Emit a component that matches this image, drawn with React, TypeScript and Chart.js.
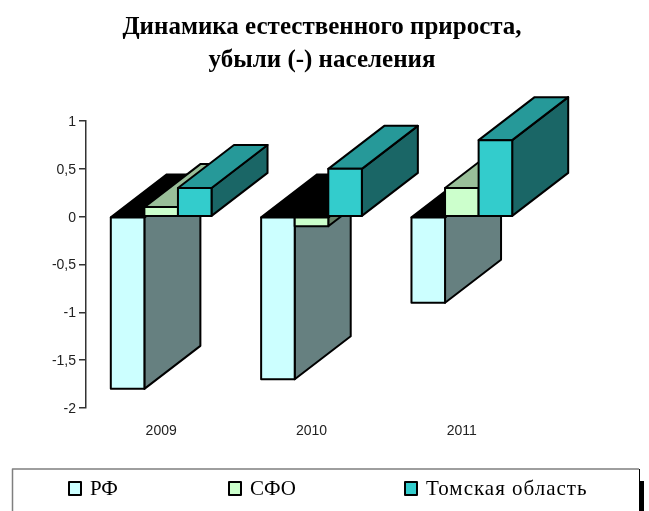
import React, { useEffect, useRef } from "react";
import { Chart, registerables } from "chart.js";

Chart.register(...registerables);

const years = ["2009", "2010", "2011"];
const seriesNames = ["РФ", "СФО", "Томская область"];
const rf = [-1.8, -1.7, -0.9];
const sfo = [0.1, -0.1, 0.3];
const tomsk = [0.3, 0.5, 0.8];
const seriesValues = [rf, sfo, tomsk];
const frontColors = ["#CCFFFF", "#CCFFCC", "#33CCCC"];
const sideColors = ["#668080", "#668066", "#1A6666"];
const topColors = ["#99BFBF", "#99BF99", "#269999"];
const legendMarkerX = [69, 229, 405];
const legendTextX = [90, 250, 426];
const legendLetterSpacing = ["0px", "0px", "1px"];
const titleLines = ["Динамика естественного прироста,", "убыли (-) населения"];

const DX = 56;
const DY = -43;

function poly(ctx: CanvasRenderingContext2D, pts: number[][], fill: string) {
  ctx.beginPath();
  pts.forEach((p, i) => (i ? ctx.lineTo(p[0], p[1]) : ctx.moveTo(p[0], p[1])));
  ctx.closePath();
  ctx.fillStyle = fill;
  ctx.fill();
  ctx.lineWidth = 2;
  ctx.strokeStyle = "#000";
  ctx.lineJoin = "round";
  ctx.stroke();
}

const bars3d = {
  id: "bars3d",
  beforeDatasetsDraw(chart: any) {
    const ctx = chart.ctx;
    seriesValues.forEach((values, s) => {
      const meta = chart.getDatasetMeta(s);
      meta.data.forEach((bar: any, i: number) => {
        const { x, y, base, width } = bar.getProps(["x", "y", "base", "width"], true);
        const l = x - width / 2;
        const r = x + width / 2;
        const t = Math.min(y, base);
        const b = Math.max(y, base);
        poly(ctx, [[r, t], [r + DX, t + DY], [r + DX, b + DY], [r, b]], sideColors[s]);
        poly(ctx, [[l, t], [r, t], [r + DX, t + DY], [l + DX, t + DY]], values[i] < 0 ? "#000000" : topColors[s]);
        poly(ctx, [[l, t], [r, t], [r, b], [l, b]], frontColors[s]);
      });
    });
    return false;
  },
};

const placeTitle = {
  id: "placeTitle",
  afterLayout(chart: any) {
    chart.titleBlock.left = 0;
    chart.titleBlock.right = 644;
  },
};

const legendBox = {
  id: "legendBox",
  afterDraw(chart: any) {
    const ctx = chart.ctx;
    ctx.save();
    ctx.fillStyle = "#000";
    ctx.fillRect(640, 481, 4, 30);
    ctx.strokeStyle = "#7f7f7f";
    ctx.lineWidth = 1.5;
    ctx.beginPath();
    ctx.moveTo(12.5, 511);
    ctx.lineTo(12.5, 469);
    ctx.lineTo(639, 469);
    ctx.stroke();
    ctx.strokeStyle = "#000";
    ctx.lineWidth = 1;
    ctx.beginPath();
    ctx.moveTo(639.5, 469);
    ctx.lineTo(639.5, 511);
    ctx.stroke();
    chart.data.datasets.forEach((ds: any, i: number) => {
      ctx.fillStyle = ds.backgroundColor;
      ctx.strokeStyle = "#000";
      ctx.lineWidth = 2;
      ctx.fillRect(legendMarkerX[i], 482, 12, 13);
      ctx.strokeRect(legendMarkerX[i], 482, 12, 13);
      ctx.fillStyle = "#000";
      ctx.font = '21px "Liberation Serif"';
      ctx.textAlign = "left";
      ctx.textBaseline = "alphabetic";
      (ctx as any).letterSpacing = legendLetterSpacing[i];
      ctx.fillText(ds.label, legendTextX[i], 495);
    });
    ctx.restore();
  },
};

export default function App() {
  const ref = useRef<HTMLCanvasElement>(null);
  useEffect(() => {
    const chart = new Chart(ref.current as HTMLCanvasElement, {
      type: "bar",
      data: {
        labels: years,
        datasets: seriesValues.map((values, s) => ({
          label: seriesNames[s],
          data: values,
          backgroundColor: frontColors[s],
          borderColor: "#000",
          borderWidth: 2,
          borderSkipped: false,
          categoryPercentage: 0.67,
          barPercentage: 1,
        })),
      },
      plugins: [placeTitle, bars3d, legendBox],
      options: {
        responsive: false,
        animation: false,
        layout: { padding: { left: 0, right: 112, top: 0, bottom: 0 } },
        plugins: {
          legend: { display: false },
          tooltip: { enabled: false },
          title: {
            display: true,
            text: titleLines,
            color: "#000",
            font: { family: '"Liberation Serif"', size: 25, weight: "bold", lineHeight: 33 / 25 },
            padding: { top: 11, bottom: 44 },
          },
        },
        scales: {
          x: {
            border: { display: false },
            grid: { display: false },
            ticks: { color: "#222", font: { family: '"Liberation Sans"', size: 14 }, padding: 7, maxRotation: 0 },
            afterFit(scale: any) {
              scale.height = 103;
            },
          },
          y: {
            min: -2,
            max: 1,
            ticks: {
              stepSize: 0.5,
              color: "#222",
              padding: 3,
              labelOffset: 1,
              font: { family: '"Liberation Sans"', size: 14 },
              callback: (v: any) => String(v).replace(".", ","),
            },
            border: { display: true, color: "#333", width: 1.5 },
            grid: { drawOnChartArea: false, drawTicks: true, tickLength: 7, color: "#333", lineWidth: 1.5 },
            afterFit(scale: any) {
              scale.width = 86;
            },
          },
        },
      },
    } as any);
    return () => chart.destroy();
  }, []);
  return (
    <div style={{ position: "absolute", left: 0, top: 0, width: 649, height: 511 }}>
      <canvas ref={ref} width={649} height={511} style={{ display: "block" }} />
    </div>
  );
}
